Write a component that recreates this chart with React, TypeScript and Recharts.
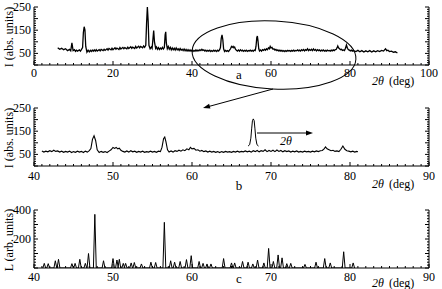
import React from 'react';
import { LineChart, Line, XAxis, YAxis } from 'recharts';

const FONT = '"Liberation Serif", "Times New Roman", Times, serif';

// measured scan: [2theta, counts]
const scan: [number, number][] = [
  [6.0, 74], [6.5, 68], [7.0, 72], [7.5, 66], [8.0, 70], [8.5, 62], [9.0, 67], [9.3, 61], [9.6, 95], [9.9, 62],
  [10.25, 66], [10.5, 59], [10.75, 64], [11.0, 60], [11.5, 65], [11.75, 60], [12.0, 66], [12.3, 75], [12.5, 140], [12.7, 165],
  [12.9, 150], [13.1, 80], [13.4, 55], [13.7, 64], [14.0, 57], [14.25, 63], [14.5, 58], [14.75, 64], [15.0, 59], [15.25, 65],
  [15.5, 60], [15.75, 66], [16.0, 60], [16.5, 66], [16.75, 61], [17.0, 67], [17.5, 62], [17.75, 68], [18.0, 63], [18.5, 70],
  [18.75, 64], [19.0, 71], [19.5, 65], [19.75, 72], [20.0, 66], [20.5, 74], [20.75, 68], [21.0, 73], [21.5, 67], [21.75, 75],
  [22.0, 69], [22.5, 76], [22.75, 70], [23.0, 75], [23.5, 70], [23.75, 77], [24.0, 71], [24.5, 79], [24.75, 72], [25.0, 77],
  [25.5, 71], [25.75, 80], [26.0, 73], [26.5, 81], [26.75, 74], [27.0, 80], [27.5, 74], [27.75, 82], [28.0, 76], [28.3, 85],
  [28.5, 180], [28.7, 250], [28.9, 190], [29.1, 85], [29.4, 70], [29.7, 78], [29.9, 72], [30.1, 110], [30.3, 148], [30.5, 100],
  [30.8, 72], [31.0, 78], [31.25, 68], [31.5, 75], [31.75, 67], [32.0, 73], [32.25, 68], [32.5, 76], [32.75, 69], [33.0, 75],
  [33.2, 130], [33.35, 143], [33.5, 95], [33.75, 70], [34.0, 80], [34.25, 68], [34.5, 76], [34.75, 65], [35.0, 74], [35.25, 66],
  [35.5, 72], [35.75, 64], [36.0, 73], [36.25, 65], [36.5, 70], [36.75, 63], [37.0, 71], [37.25, 64], [37.5, 68], [37.75, 62],
  [38.0, 69], [38.25, 61], [38.5, 67], [38.75, 60], [39.0, 66], [39.25, 60], [39.5, 65], [39.75, 59],
  [40.0, 64], [40.25, 58], [40.5, 63], [40.75, 59], [41.0, 65], [41.25, 60], [41.5, 64], [41.75, 61], [42.0, 66], [42.25, 62],
  [42.5, 68], [42.75, 63], [43.0, 65], [43.25, 60], [43.5, 64], [43.75, 59], [44.0, 63], [44.25, 60], [44.5, 64], [44.75, 58],
  [45.0, 62], [45.25, 59], [45.5, 64], [45.75, 60], [46.0, 63], [46.25, 58], [46.5, 64], [46.75, 60], [47.0, 66], [47.2, 75],
  [47.4, 115], [47.6, 130], [47.8, 110], [48.0, 70], [48.25, 58], [48.5, 63], [48.75, 59], [49.0, 62], [49.25, 58], [49.5, 64],
  [49.75, 70], [50.0, 80], [50.2, 76], [50.4, 80], [50.6, 74], [50.8, 77], [51.0, 68], [51.25, 63], [51.5, 60], [51.75, 65],
  [52.0, 60], [52.25, 66], [52.5, 61], [52.75, 64], [53.0, 59], [53.25, 63], [53.5, 60], [53.75, 64], [54.0, 59], [54.25, 62],
  [54.5, 60], [54.75, 64], [55.0, 60], [55.25, 63], [55.5, 59], [55.75, 64], [56.0, 62], [56.2, 80], [56.4, 118], [56.55, 125],
  [56.7, 105], [56.9, 70], [57.1, 60], [57.35, 65], [57.6, 60], [57.85, 66], [58.1, 63], [58.35, 68], [58.6, 64], [58.85, 70],
  [59.1, 66], [59.35, 74], [59.6, 70], [59.8, 80], [60.0, 74], [60.25, 76], [60.5, 68], [60.75, 70], [61.0, 64], [61.25, 67],
  [61.5, 62], [61.75, 65], [62.0, 60], [62.25, 64], [62.5, 60], [62.75, 63], [63.0, 59], [63.25, 62], [63.5, 58], [63.75, 62],
  [64.0, 59], [64.25, 63], [64.5, 60], [64.75, 62], [65.0, 59], [65.25, 63], [65.5, 60], [65.75, 64], [66.0, 60], [66.25, 63],
  [66.5, 61], [66.75, 65], [67.0, 61], [67.25, 64], [67.5, 60], [67.75, 66], [68.0, 62], [68.25, 67], [68.5, 61], [68.75, 66],
  [69.0, 63], [69.25, 70], [69.5, 62], [69.75, 67], [70.0, 63], [70.25, 68], [70.5, 62], [70.75, 69], [71.0, 63], [71.25, 67],
  [71.5, 61], [71.75, 66], [72.0, 62], [72.25, 65], [72.5, 60], [72.75, 64], [73.0, 61], [73.25, 65], [73.5, 60], [73.75, 63],
  [74.0, 60], [74.25, 64], [74.5, 61], [74.75, 63], [75.0, 60], [75.25, 64], [75.5, 61], [75.75, 65], [76.0, 62], [76.25, 66],
  [76.5, 67], [76.75, 75], [76.9, 82], [77.1, 74], [77.35, 70], [77.6, 66], [77.85, 68], [78.1, 63], [78.35, 65], [78.6, 62],
  [78.85, 72], [79.1, 86], [79.35, 72], [79.6, 66], [79.85, 64], [80.1, 61], [80.35, 64], [80.6, 60], [80.85, 63], [81.0, 61],
  [81.5, 58], [82.0, 63], [82.5, 57], [83.0, 62], [83.5, 56], [84.0, 61], [84.5, 57], [85.0, 62], [85.5, 56], [86.0, 61],
  [86.5, 57], [87.0, 62], [87.5, 58], [88.0, 63], [88.5, 60], [88.8, 66], [89.0, 70], [89.3, 62], [89.6, 64], [90.0, 58],
  [90.5, 60], [91.0, 55], [91.5, 57], [92.0, 52],
];

// reference line pattern (panel c)
const stickAngles = [
  41.3, 41.8, 42.7, 43.1, 44.8, 45.2, 45.8, 46.5, 46.9, 47.7,
  48.8, 50.0, 50.5, 50.8, 51.3, 51.6, 52.3, 52.7, 53.6, 54.8,
  55.4, 56.5, 57.3, 57.8, 58.5, 59.3, 59.9, 60.9, 61.4, 61.9,
  62.4, 64.0, 65.0, 65.4, 66.4, 67.1, 67.7, 68.3, 69.1, 69.7,
  70.3, 70.9, 71.4, 72.0, 72.5, 74.3, 75.7, 76.8, 77.5, 79.2,
  80.4,
];
const stickHeights = [
  32, 30, 50, 60, 30, 32, 60, 32, 100, 370,
  50, 65, 55, 60, 32, 32, 35, 38, 28, 40,
  38, 315, 50, 40, 45, 58, 85, 45, 32, 28,
  28, 65, 35, 35, 45, 40, 28, 55, 35, 135,
  45, 90, 70, 30, 32, 25, 40, 65, 35, 112,
  35,
];

// schematic single peak drawn in panel b
const insetAngles = [67.1, 67.3, 67.45, 67.55, 67.65, 67.76, 67.87, 67.97, 68.07, 68.22, 68.42];
const insetCounts = [86, 92, 120, 160, 195, 203, 195, 160, 120, 92, 86];

const labelsA = [0, 20, 40, 60, 80, 100];
const labelsB = [40, 50, 60, 70, 80, 90];
const countLabels = [50, 150, 250];
const stickLabels = [200, 400];

const W = 442;
const PLOT_TOP = 7;
const PLOT_H = 58;
const LEFT = 34;
const RIGHT = 13;
const AXIS_Y = PLOT_TOP + PLOT_H;
const AXIS_R = W - RIGHT;

const steps = (a: number, b: number, s: number) => {
  const out: number[] = [];
  for (let v = a; v <= b + 1e-9; v += s) out.push(Math.round(v * 100) / 100);
  return out;
};
const isMajor = (v: number, step: number) => Math.abs(v / step - Math.round(v / step)) < 1e-6;

const scanPoints = scan.map(([x, y]) => ({ x, y }));
const zoomPoints = scan.filter(([x]) => x >= 41 && x <= 81).map(([x, y]) => ({ x, y }));
const insetPoints = insetAngles.map((x, i) => ({ x, y: insetCounts[i] }));
const stickPoints = stickAngles.flatMap((x, i) => [
  { x: x - 0.18, y: 0 },
  { x, y: stickHeights[i] },
  { x: x + 0.18, y: 0 },
]);

interface PanelProps {
  top: number;
  height: number;
  xDomain: [number, number];
  xStep: number;
  xMajor: number;
  xLabels: number[];
  labelDy: number;
  yDomain: [number, number];
  yStep: number;
  yMajor: number;
  yLabels: number[];
  children: React.ReactNode;
}

const Panel: React.FC<PanelProps> = ({ top, height, xDomain, xStep, xMajor, xLabels, labelDy, yDomain, yStep, yMajor, yLabels, children }) => {
  const xTicks = steps(xDomain[0], xDomain[1], xStep);
  const yTicks = steps(yDomain[0], yDomain[1], yStep);

  const bottomTick = (p: any) => {
    const v = p.payload.value;
    return (
      <g>
        <line x1={p.x} x2={p.x} y1={AXIS_Y} y2={AXIS_Y - (isMajor(v, xMajor) ? 4 : 2)} stroke="#000" />
        {xLabels.includes(v) && (
          <text x={p.x} y={AXIS_Y + labelDy} textAnchor="middle" dominantBaseline="central" fontSize={12} fontFamily={FONT} fill="#000">
            {v}
          </text>
        )}
      </g>
    );
  };
  const topTick = (p: any) => {
    const v = p.payload.value;
    return <line x1={p.x} x2={p.x} y1={PLOT_TOP} y2={PLOT_TOP + (isMajor(v, xMajor) ? 3 : 2)} stroke="#000" />;
  };
  const leftTick = (p: any) => {
    const v = p.payload.value;
    return (
      <g>
        <line x1={LEFT} x2={LEFT + (isMajor(v, yMajor) ? 4 : 2)} y1={p.y} y2={p.y} stroke="#000" />
        {yLabels.includes(v) && (
          <text x={LEFT - 3} y={p.y} textAnchor="end" dominantBaseline="central" fontSize={12} fontFamily={FONT} fill="#000">
            {v}
          </text>
        )}
      </g>
    );
  };
  const rightTick = (p: any) => {
    const v = p.payload.value;
    return <line x1={AXIS_R} x2={AXIS_R - (isMajor(v, yMajor) ? 4 : 2)} y1={p.y} y2={p.y} stroke="#000" />;
  };

  return (
    <div style={{ position: 'absolute', left: 0, top }}>
      <LineChart width={W} height={height} margin={{ top: PLOT_TOP, right: 0, bottom: 0, left: 0 }}>
        <XAxis xAxisId="b" dataKey="x" type="number" domain={xDomain} ticks={xTicks} interval={0} allowDataOverflow
          height={height - PLOT_TOP - PLOT_H} axisLine={{ stroke: '#000' }} tickLine={false} tick={bottomTick} />
        <XAxis xAxisId="t" dataKey="x" type="number" orientation="top" domain={xDomain} ticks={xTicks} interval={0} allowDataOverflow
          height={0} axisLine={{ stroke: '#000' }} tickLine={false} tick={topTick} />
        <YAxis yAxisId="l" type="number" domain={yDomain} ticks={yTicks} interval={0} allowDataOverflow width={LEFT}
          axisLine={{ stroke: '#000' }} tickLine={false} tick={leftTick} />
        <YAxis yAxisId="r" type="number" orientation="right" domain={yDomain} ticks={yTicks} interval={0} allowDataOverflow width={RIGHT}
          axisLine={{ stroke: '#000' }} tickLine={false} tick={rightTick} />
        {children}
      </LineChart>
    </div>
  );
};

const arrowHead = (x: number, y: number, dx: number, dy: number, len = 7, half = 2.5) => {
  const n = Math.hypot(dx, dy);
  const ux = dx / n, uy = dy / n;
  const bx = x - ux * len, by = y - uy * len;
  return `${x},${y} ${bx - uy * half},${by + ux * half} ${bx + uy * half},${by - ux * half}`;
};

const App: React.FC = () => {
  const lineProps = { xAxisId: 'b', yAxisId: 'l', dataKey: 'y', type: 'linear' as const, dot: false, stroke: '#000', isAnimationActive: false };
  return (
    <div style={{ position: 'absolute', left: 0, top: 0, width: W, height: 289, background: '#fff', fontFamily: FONT }}>
      <Panel top={0} height={90} xDomain={[0, 100]} xStep={2} xMajor={20} xLabels={labelsA} labelDy={8}
        yDomain={[0, 250]} yStep={10} yMajor={50} yLabels={countLabels}>
        <Line {...lineProps} data={scanPoints} strokeWidth={1.3} />
      </Panel>
      <Panel top={101} height={90} xDomain={[40, 90]} xStep={1} xMajor={10} xLabels={labelsB} labelDy={10}
        yDomain={[0, 250]} yStep={10} yMajor={50} yLabels={countLabels}>
        <Line {...lineProps} data={zoomPoints} strokeWidth={1.1} />
        <Line {...lineProps} data={insetPoints} strokeWidth={1} />
      </Panel>
      <Panel top={203} height={86} xDomain={[40, 90]} xStep={1} xMajor={10} xLabels={labelsB} labelDy={9}
        yDomain={[0, 400]} yStep={20} yMajor={100} yLabels={stickLabels}>
        <Line {...lineProps} data={stickPoints} strokeWidth={1} />
      </Panel>

      <svg width={W} height={289} style={{ position: 'absolute', left: 0, top: 0, pointerEvents: 'none' }} fontFamily={FONT}>
        <ellipse cx={274} cy={55} rx={82} ry={34} transform="rotate(3 274 55)" fill="none" stroke="#000" strokeWidth={1} />
        <line x1={273} y1={89} x2={208} y2={106.7} stroke="#000" strokeWidth={1} />
        <polygon points={arrowHead(203, 108, -70, 19)} fill="#000" />
        <line x1={257} y1={133} x2={306} y2={133} stroke="#000" strokeWidth={1} />
        <polygon points={arrowHead(313, 133, 1, 0)} fill="#000" />
        <text x={286} y={141} fontSize={12} fontStyle="italic" textAnchor="middle" dominantBaseline="central">2θ</text>

        {[[37, 'I (abs. units)'], [138, 'I (abs. units)'], [240, 'L (arb. units)']].map(([y, t]) => (
          <text key={String(y)} x={0} y={0} transform={`translate(9 ${y}) rotate(-90)`} fontSize={12} textAnchor="middle" dominantBaseline="central">{t}</text>
        ))}
        {[[74, 'a'], [185, 'b'], [278, 'c']].map(([y, t]) => (
          <text key={String(t)} x={239} y={Number(y)} fontSize={13} textAnchor="middle" dominantBaseline="central">{t}</text>
        ))}
        {[81, 184, 283].map(y => (
          <text key={y} x={372} y={y} fontSize={12} dominantBaseline="central">
            <tspan fontStyle="italic">2θ</tspan>
            <tspan dx={5}>(deg)</tspan>
          </text>
        ))}
      </svg>
    </div>
  );
};

export default App;
